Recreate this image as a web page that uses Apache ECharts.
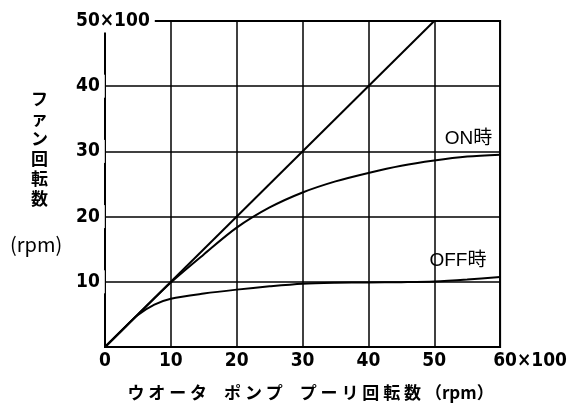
<!DOCTYPE html>
<html><head><meta charset="utf-8">
<script src="https://cdn.jsdelivr.net/npm/echarts@6/dist/echarts.min.js"></script>
<style>html,body{margin:0;padding:0;background:#fff}#c{width:570px;height:409px}</style>
</head><body><div id="c"></div>
<script>
// Data
const xTickLabels = ['0', '10', '20', '30', '40', '50', '60×100'];
const yTickLabels = ['', '10', '20', '30', '40', '50×100'];
const diagonal = [[0, 0], [50, 50]];
const onCurve = [[0, 0], [5, 5], [10, 9.9], [15, 14.2], [20, 18.3], [25, 21.4], [30, 23.7], [35, 25.4], [40, 26.7], [45, 27.8], [50, 28.6], [55, 29.2], [60, 29.5]];
const offCurve = [[0, 0], [2.5, 2.5], [5, 4.9], [7.5, 6.5], [10, 7.4], [15, 8.2], [20, 8.8], [25, 9.3], [30, 9.7], [35, 9.85], [40, 9.9], [45, 9.95], [50, 10.05], [55, 10.35], [60, 10.75]];
const curveLabels = [{ name: 'ON時', coord: [55.2, 32.0] }, { name: 'OFF時', coord: [53.6, 13.3] }];
const xName = 'ウ オ ー タ　ポ ン プ　プ ー リ 回 転 数 （rpm）';
const yName = 'ファン回転数';
const yUnit = '(rpm)';

const numFont = "'DejaVu Sans Condensed','Liberation Sans',sans-serif";
const cjkFont = "'Noto Sans CJK JP','Liberation Sans',sans-serif";

const chart = echarts.init(document.getElementById('c'), null, { renderer: 'canvas' });
chart.setOption({
  animation: false,
  backgroundColor: '#fff',
  grid: { left: 105, right: 68, top: 21, bottom: 62, show: true, borderColor: '#000', borderWidth: 2, backgroundColor: 'transparent' },
  xAxis: {
    type: 'value', min: 0, max: 60, interval: 10,
    axisLine: { show: true, lineStyle: { color: '#000', width: 2 } },
    axisTick: { show: false },
    splitLine: { show: true, lineStyle: { color: '#000', width: 1.5 } },
    axisLabel: {
      color: '#000', fontFamily: numFont, fontWeight: 'bold', fontSize: 19, margin: 5,
      formatter: function (v) {
        const s = xTickLabels[Math.round(v / 10)];
        return v === 60 ? '{w|' + s + '}' : s;
      },
      rich: { w: { fontFamily: numFont, fontWeight: 'bold', fontSize: 19, color: '#000', padding: [0, 0, 0, 60] } }
    },
    name: xName, nameLocation: 'middle', nameGap: 37,
    nameTextStyle: { color: '#000', fontFamily: cjkFont, fontWeight: 'bold', fontSize: 17, padding: [0, 0, 0, 16] }
  },
  yAxis: {
    type: 'value', min: 0, max: 50, interval: 10,
    axisLine: { show: true, lineStyle: { color: '#000', width: 2 } },
    axisTick: { show: false },
    splitLine: { show: true, lineStyle: { color: '#000', width: 1.5 } },
    axisLabel: {
      color: '#000', fontFamily: numFont, fontWeight: 'bold', fontSize: 19, margin: 29, align: 'left',
      backgroundColor: '#fff', padding: [2, 5, 2, 0],
      formatter: function (v) { return yTickLabels[Math.round(v / 10)]; }
    }
  },
  graphic: [
    { type: 'text', left: 31, top: 89, z: 10, style: { text: yName.split('').join('\n'), font: 'bold 17px ' + cjkFont, lineHeight: 20, fill: '#000', align: 'center' } },
    { type: 'text', left: 10, top: 234, z: 10, style: { text: yUnit, font: '20px ' + cjkFont, fill: '#000' } }
  ],
  series: [
    { type: 'line', data: diagonal, symbol: 'none', lineStyle: { color: '#000', width: 2 } },
    { type: 'line', data: onCurve, symbol: 'none', smooth: 0.3, lineStyle: { color: '#000', width: 2 },
      markPoint: {
        symbol: 'circle', symbolSize: 0,
        label: { show: true, position: 'inside', color: '#000', fontFamily: "'Liberation Sans','Noto Sans CJK JP',sans-serif", fontSize: 19, formatter: '{b}' },
        data: curveLabels.map(d => ({ name: d.name, coord: d.coord }))
      }
    },
    { type: 'line', data: offCurve, symbol: 'none', smooth: 0.3, lineStyle: { color: '#000', width: 2 } }
  ]
});
</script>
</body></html>
